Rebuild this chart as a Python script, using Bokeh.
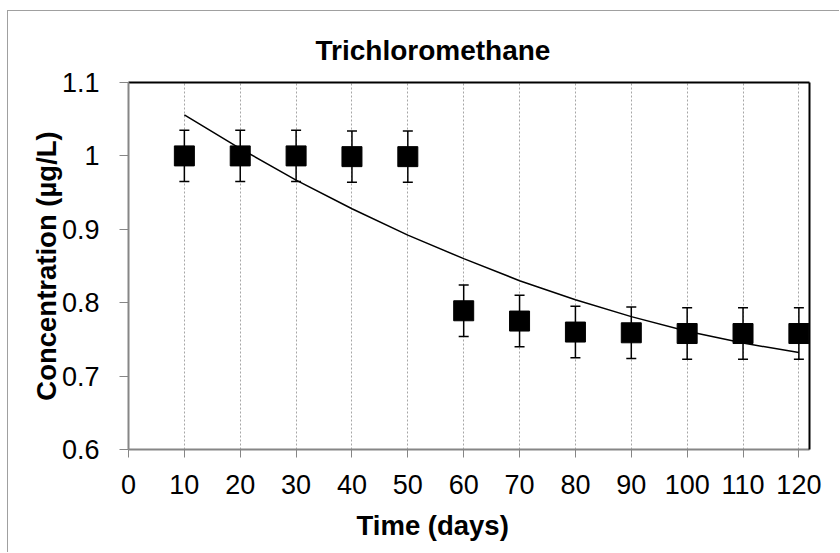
from bokeh.plotting import figure
from bokeh.models import (ColumnDataSource, FixedTicker, LinearAxis, Range1d,
                          Title, Whisker, TeeHead)
from bokeh.embed import file_html
from bokeh.resources import INLINE

# ---- data ----
days = [10, 20, 30, 40, 50, 60, 70, 80, 90, 100, 110, 120]
concentration = [1.000, 1.000, 1.000, 0.999, 0.999, 0.789, 0.775, 0.760,
                 0.759, 0.758, 0.758, 0.758]
error = [0.035, 0.035, 0.035, 0.035, 0.035, 0.035, 0.035, 0.035,
         0.035, 0.035, 0.035, 0.035]
trend_days = [10, 20, 30, 40, 50, 60, 70, 80, 90, 100, 110, 120]
trend_values = [1.056, 1.010, 0.967, 0.928, 0.892, 0.860, 0.830, 0.804,
                0.781, 0.761, 0.745, 0.732]
x_ticks = [0, 10, 20, 30, 40, 50, 60, 70, 80, 90, 100, 110, 120]
y_ticks = [0.6, 0.7, 0.8, 0.9, 1.0, 1.1]
y_tick_labels = ["0.6", "0.7", "0.8", "0.9", "1", "1.1"]

title_text = "Trichloromethane"
x_label = "Time (days)"
y_label = "Concentration (\u00b5g/L)"

FONT = "Liberation Sans"
AXIS_GRAY = "#868686"

W, H = 832, 542

p = figure(width=W, height=H, output_backend="svg", toolbar_location=None,
           title=None,
           x_range=Range1d(0, 121.9), y_range=Range1d(0.6, 1.1),
           min_border_left=120, min_border_right=31,
           min_border_top=71, min_border_bottom=104,
           outline_line_color=None,
           background_fill_color="white", border_fill_color="white")

p.styles = {"border-left": "1px solid #a0a0a0",
            "border-top": "1px solid #a0a0a0",
            "transform": "translate(7px, 10px)"}

# bottom axis
xa = p.xaxis[0]
xa.ticker = FixedTicker(ticks=x_ticks)
xa.axis_line_color = AXIS_GRAY
xa.axis_line_width = 2
xa.major_tick_line_color = AXIS_GRAY
xa.major_tick_line_width = 1
xa.major_tick_out = 8
xa.major_tick_in = 0
xa.minor_tick_line_color = None
xa.major_label_text_font = FONT
xa.major_label_text_font_size = "27px"
xa.major_label_text_color = "black"
xa.major_label_standoff = 17

# left axis
ya = p.yaxis[0]
ya.ticker = FixedTicker(ticks=y_ticks)
ya.major_label_overrides = dict(zip(y_ticks, y_tick_labels))
ya.axis_line_color = AXIS_GRAY
ya.axis_line_width = 2
ya.major_tick_line_color = AXIS_GRAY
ya.major_tick_line_width = 1
ya.major_tick_out = 9
ya.major_tick_in = 0
ya.minor_tick_line_color = None
ya.major_label_text_font = FONT
ya.major_label_text_font_size = "27px"
ya.major_label_text_color = "black"
ya.major_label_standoff = 20
ya.axis_label = y_label
ya.axis_label_text_font = FONT
ya.axis_label_text_font_size = "27.5px"
ya.axis_label_text_font_style = "bold"
ya.axis_label_text_color = "black"
ya.axis_label_standoff = -3

# top / right frame lines
for side in ("above", "right"):
    ax = LinearAxis(ticker=FixedTicker(ticks=[]),
                    axis_line_color="black", axis_line_width=2,
                    major_tick_line_color=None, minor_tick_line_color=None,
                    major_label_text_font_size="0px", major_label_standoff=0)
    p.add_layout(ax, side)

# grid
p.xgrid.grid_line_color = "#a6a6a6"
p.xgrid.grid_line_dash = "2 2"
p.xgrid.grid_line_width = 1
p.ygrid.grid_line_color = None

# titles
p.add_layout(Title(text=title_text, align="left", offset=187,
                   text_font=FONT, text_font_size="28px",
                   text_font_style="bold", text_color="black",
                   standoff=34), "above")
p.add_layout(Title(text=x_label, align="left", offset=228,
                   text_font=FONT, text_font_size="27.5px",
                   text_font_style="bold", text_color="black",
                   standoff=23), "below")

src = ColumnDataSource(data=dict(
    x=days, y=concentration,
    upper=[c + e for c, e in zip(concentration, error)],
    lower=[c - e for c, e in zip(concentration, error)]))

whisk = Whisker(source=src, base="x", upper="upper", lower="lower",
                line_color="black", line_width=1.5,
                upper_head=TeeHead(size=10, line_color="black", line_width=1.5),
                lower_head=TeeHead(size=10, line_color="black", line_width=1.5),
                level="glyph")
p.add_layout(whisk)

p.scatter("x", "y", source=src, marker="square", size=20,
          fill_color="black", line_color="black")

p.line(trend_days, trend_values, line_color="black", line_width=1.5)

open("out.html", "w").write(file_html(p, INLINE))
